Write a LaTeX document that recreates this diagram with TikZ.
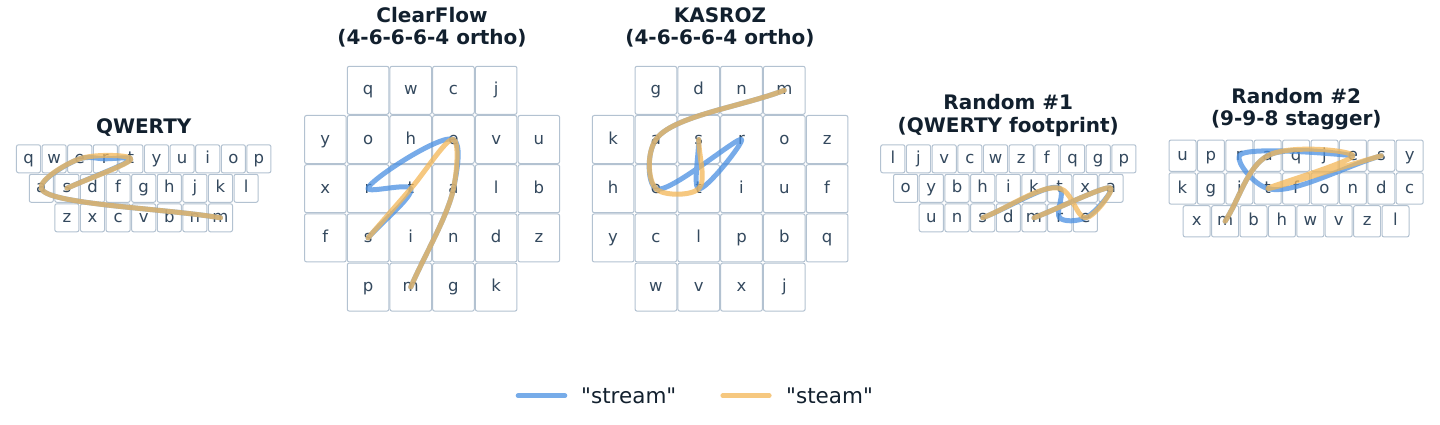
\documentclass[tikz,border=0pt]{standalone}
\usepackage{fontspec}
\setmainfont{DejaVu Sans}
\definecolor{keyborder}{HTML}{B3C2D1}
\definecolor{keytext}{HTML}{34495E}
\definecolor{titletext}{HTML}{12202E}
\definecolor{streamblue}{HTML}{4A90E2}
\definecolor{steamorange}{RGB}{243,182,86}
\newcommand\dq{\XeTeXglyph\XeTeXcharglyph"22\relax}
\tikzset{
  key/.style={draw=keyborder, line width=1pt, fill=white, rounded corners=2pt,
    inner sep=0pt, text=keytext, font=\fontsize{16.5}{19}\selectfont,
    text height=9pt, text depth=0pt},
  ptitle/.style={font=\bfseries\fontsize{20}{22}\selectfont, text=titletext,
    align=center, inner sep=0pt, anchor=base},
  swipe/.style={line width=5pt, line cap=round, line join=round, draw opacity=0.75},
  stream/.style={swipe, draw=streamblue},
  steam/.style={swipe, draw=steamorange},
  legendline/.style={line width=4.6pt, line cap=round, draw opacity=0.75},
  legendtext/.style={font=\fontsize{21.5}{25}\selectfont, text=titletext,
    anchor=west, inner sep=0pt},
}
% #1 prefix, #2 y, #3 left, #4 pitch, #5 width, #6 height, #7 letters
\newcommand\keyrow[7]{%
  \foreach \l [count=\i from 0] in {#7}
    \node[key, minimum width=#5pt, minimum height=#6pt] (#1\l) at ({#3+#4*(\i+0.5)}, #2) {\l};
}
\makeatletter
\def\swv#1#2{\csname sw#1#2\endcsname}
% centripetal Catmull-Rom swipe through a list of named key nodes
\newcommand\swipe[2]{%
  \foreach \nm [count=\c] in {#2}{%
    \pgfpointanchor{\nm}{center}%
    \expandafter\xdef\csname swX\c\endcsname{\strip@pt\pgf@x}%
    \expandafter\xdef\csname swY\c\endcsname{\strip@pt\pgf@y}%
    \expandafter\xdef\csname swN\c\endcsname{\nm}%
    \xdef\swn{\c}%
  }%
  \pgfmathtruncatemacro\swm{\swn-1}%
  \foreach \swi in {1,...,\swm}{%
    \pgfmathtruncatemacro\swj{\swi+1}%
    \pgfmathsetmacro\swdx{(\swv{X}{\swj})-(\swv{X}{\swi})}%
    \pgfmathsetmacro\swdy{(\swv{Y}{\swj})-(\swv{Y}{\swi})}%
    \pgfmathsetmacro\swt{sqrt(veclen(\swdx,\swdy))}%
    \expandafter\xdef\csname swS\swi\endcsname{\swt}%
    \expandafter\xdef\csname swEx\swi\endcsname{\swdx}%
    \expandafter\xdef\csname swEy\swi\endcsname{\swdy}%
  }%
  \foreach \swi in {2,...,\swm}{%
    \pgfmathtruncatemacro\swh{\swi-1}%
    \pgfmathsetmacro\swt{(\swv{Ex}{\swh})/(\swv{S}{\swh})-((\swv{Ex}{\swh})+(\swv{Ex}{\swi}))/((\swv{S}{\swh})+(\swv{S}{\swi}))+(\swv{Ex}{\swi})/(\swv{S}{\swi})}%
    \expandafter\xdef\csname swMx\swi\endcsname{\swt}%
    \pgfmathsetmacro\swt{(\swv{Ey}{\swh})/(\swv{S}{\swh})-((\swv{Ey}{\swh})+(\swv{Ey}{\swi}))/((\swv{S}{\swh})+(\swv{S}{\swi}))+(\swv{Ey}{\swi})/(\swv{S}{\swi})}%
    \expandafter\xdef\csname swMy\swi\endcsname{\swt}%
  }%
  \pgfmathsetmacro\swt{(\swv{Ex}{1})/(\swv{S}{1})}\expandafter\xdef\csname swMx1\endcsname{\swt}%
  \pgfmathsetmacro\swt{(\swv{Ey}{1})/(\swv{S}{1})}\expandafter\xdef\csname swMy1\endcsname{\swt}%
  \pgfmathsetmacro\swt{(\swv{Ex}{\swm})/(\swv{S}{\swm})}\expandafter\xdef\csname swMx\swn\endcsname{\swt}%
  \pgfmathsetmacro\swt{(\swv{Ey}{\swm})/(\swv{S}{\swm})}\expandafter\xdef\csname swMy\swn\endcsname{\swt}%
  \xdef\swpath{(\swv{N}{1}.center)}%
  \foreach \swi in {1,...,\swm}{%
    \pgfmathtruncatemacro\swj{\swi+1}%
    \pgfmathsetmacro\swax{(\swv{X}{\swi})+(\swv{Mx}{\swi})*(\swv{S}{\swi})/3}%
    \pgfmathsetmacro\sway{(\swv{Y}{\swi})+(\swv{My}{\swi})*(\swv{S}{\swi})/3}%
    \pgfmathsetmacro\swbx{(\swv{X}{\swj})-(\swv{Mx}{\swj})*(\swv{S}{\swi})/3}%
    \pgfmathsetmacro\swby{(\swv{Y}{\swj})-(\swv{My}{\swj})*(\swv{S}{\swi})/3}%
    \xdef\swpath{\swpath\space .. controls (\swax pt,\sway pt) and (\swbx pt,\swby pt) .. (\swv{N}{\swj}.center)}%
  }%
  \draw[#1] \swpath;
}
\makeatother
\begin{document}
\begin{tikzpicture}[x=1pt, y=-1pt]
\useasboundingbox (0,0) rectangle (1440,425);

% ---------- QWERTY ----------
\node[ptitle] (tQ) at (143.7,133.3) {QWERTY};
\keyrow{Q}{158.8}{15.7}{25.6}{24.1}{28}{q,w,e,r,t,y,u,i,o,p}
\keyrow{Q}{188.3}{28.5}{25.6}{24.1}{28}{a,s,d,f,g,h,j,k,l}
\keyrow{Q}{217.8}{54.1}{25.6}{24.1}{28}{z,x,c,v,b,n,m}

% ---------- ClearFlow ----------
\node[ptitle] (tC) at (432,44.8) {ClearFlow\\(4-6-6-6-4 ortho)};
\keyrow{C}{90.3}{346.7}{42.7}{41.6}{48}{q,w,c,j}
\keyrow{C}{139.5}{304}{42.7}{41.6}{48}{y,o,h,e,v,u}
\keyrow{C}{188.7}{304}{42.7}{41.6}{48}{x,r,t,a,l,b}
\keyrow{C}{237.9}{304}{42.7}{41.6}{48}{f,s,i,n,d,z}
\keyrow{C}{287.1}{346.7}{42.7}{41.6}{48}{p,m,g,k}

% ---------- KASROZ ----------
\node[ptitle] (tK) at (720,44.8) {KASROZ\\(4-6-6-6-4 ortho)};
\keyrow{K}{90.3}{634.5}{42.8}{41.7}{48}{g,d,n,m}
\keyrow{K}{139.5}{591.7}{42.8}{41.7}{48}{k,a,s,r,o,z}
\keyrow{K}{188.7}{591.7}{42.8}{41.7}{48}{h,e,t,i,u,f}
\keyrow{K}{237.9}{591.7}{42.8}{41.7}{48}{y,c,l,p,b,q}
\keyrow{K}{287.1}{634.5}{42.8}{41.7}{48}{w,v,x,j}

% ---------- Random #1 ----------
\node[ptitle] (tR) at (1008.3,132) {Random \#1\\(QWERTY footprint)};
\keyrow{R}{158.8}{880}{25.67}{24.2}{28}{l,j,v,c,w,z,f,q,g,p}
\keyrow{R}{188.3}{892.8}{25.67}{24.2}{28}{o,y,b,h,i,k,t,x,a}
\keyrow{R}{217.8}{918.5}{25.67}{24.2}{28}{u,n,s,d,m,r,e}

% ---------- Random #2 ----------
\node[ptitle] (tS) at (1296.3,125.8) {Random \#2\\(9-9-8 stagger)};
\keyrow{S}{155.7}{1168.3}{28.4}{27}{31.3}{u,p,r,a,q,j,e,s,y}
\keyrow{S}{188.5}{1168.3}{28.4}{27}{31.3}{k,g,i,t,f,o,n,d,c}
\keyrow{S}{221.3}{1182.5}{28.4}{27}{31.3}{x,m,b,h,w,v,z,l}

% ---------- swipe paths ----------
\swipe{stream}{Qs,Qt,Qr,Qe,Qa,Qm}
\swipe{steam}{Qs,Qt,Qe,Qa,Qm}
\swipe{stream}{Cs,Ct,Cr,Ce,Ca,Cm}
\swipe{steam}{Cs,Ct,Ce,Ca,Cm}
\swipe{stream}{Ks,Kt,Kr,Ke,Ka,Km}
\swipe{steam}{Ks,Kt,Ke,Ka,Km}
\swipe{stream}{Rs,Rt,Rr,Re,Ra,Rm}
\swipe{steam}{Rs,Rt,Re,Ra,Rm}
\swipe{stream}{Ss,St,Sr,Se,Sa,Sm}
\swipe{steam}{Ss,St,Se,Sa,Sm}

% ---------- legend ----------
\coordinate (lb1) at (518,395.7);
\coordinate (lb2) at (565,395.7);
\coordinate (lo1) at (722.7,395.7);
\coordinate (lo2) at (769.3,395.7);
\draw[legendline, draw=streamblue] (lb1) -- (lb2);
\draw[legendline, draw=steamorange] (lo1) -- (lo2);
\node[legendtext] (lgb) at (581,396) {\dq stream\dq};
\node[legendtext] (lgo) at (786,396) {\dq steam\dq};
\end{tikzpicture}
\end{document}
